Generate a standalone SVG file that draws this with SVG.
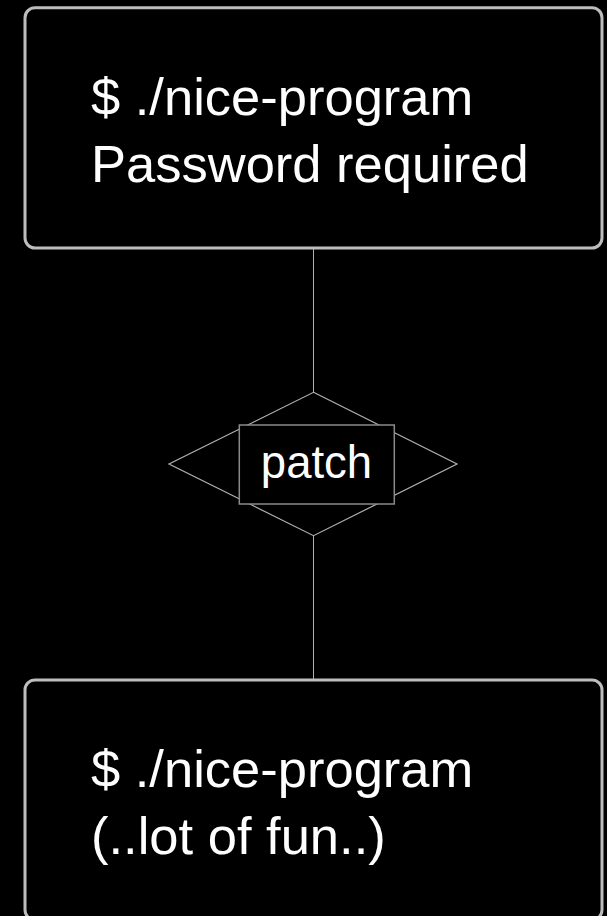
<svg xmlns="http://www.w3.org/2000/svg" width="607" height="916" viewBox="0 0 607 916">
  <style>
    .box { fill: #000; stroke: #bdbdbd; stroke-width: 3; }
    .big { fill: #fff; font-family: "Liberation Sans", Arial, sans-serif; font-size: 52.5px; }
    .edge { stroke: #b0b0b0; stroke-width: 1; fill: none; }
    .gate { fill: #000; stroke: #b0b0b0; stroke-width: 1.2; }
    .tag { fill: #000; stroke: #8a8a8a; stroke-width: 1.5; }
    .tagtext { fill: #fff; font-family: "Liberation Sans", Arial, sans-serif; font-size: 45.5px; text-anchor: middle; }
  </style>
  <rect width="607" height="916" fill="#000"/>

  <g id="connectors">
    <line class="edge" x1="313.5" y1="248" x2="313.5" y2="392"/>
    <line class="edge" x1="313.5" y1="536" x2="313.5" y2="680"/>
  </g>

  <g id="before">
    <rect class="box" x="25" y="7.7" width="577" height="240.3" rx="10" ry="10"/>
    <text class="big" x="91" y="115">$ ./nice-program</text>
    <text class="big" x="91" y="182">Password required</text>
  </g>

  <g id="patch">
    <polygon class="gate" points="313.5,392.3 457,464 313.5,535.7 169,464"/>
    <rect class="tag" x="239.3" y="425" width="155" height="79"/>
    <text class="tagtext" x="316.5" y="478">patch</text>
  </g>

  <g id="after">
    <rect class="box" x="25" y="680" width="577" height="240" rx="10" ry="10"/>
    <text class="big" x="91" y="787">$ ./nice-program</text>
    <text class="big" x="91" y="854">(..lot of fun..)</text>
  </g>
</svg>
